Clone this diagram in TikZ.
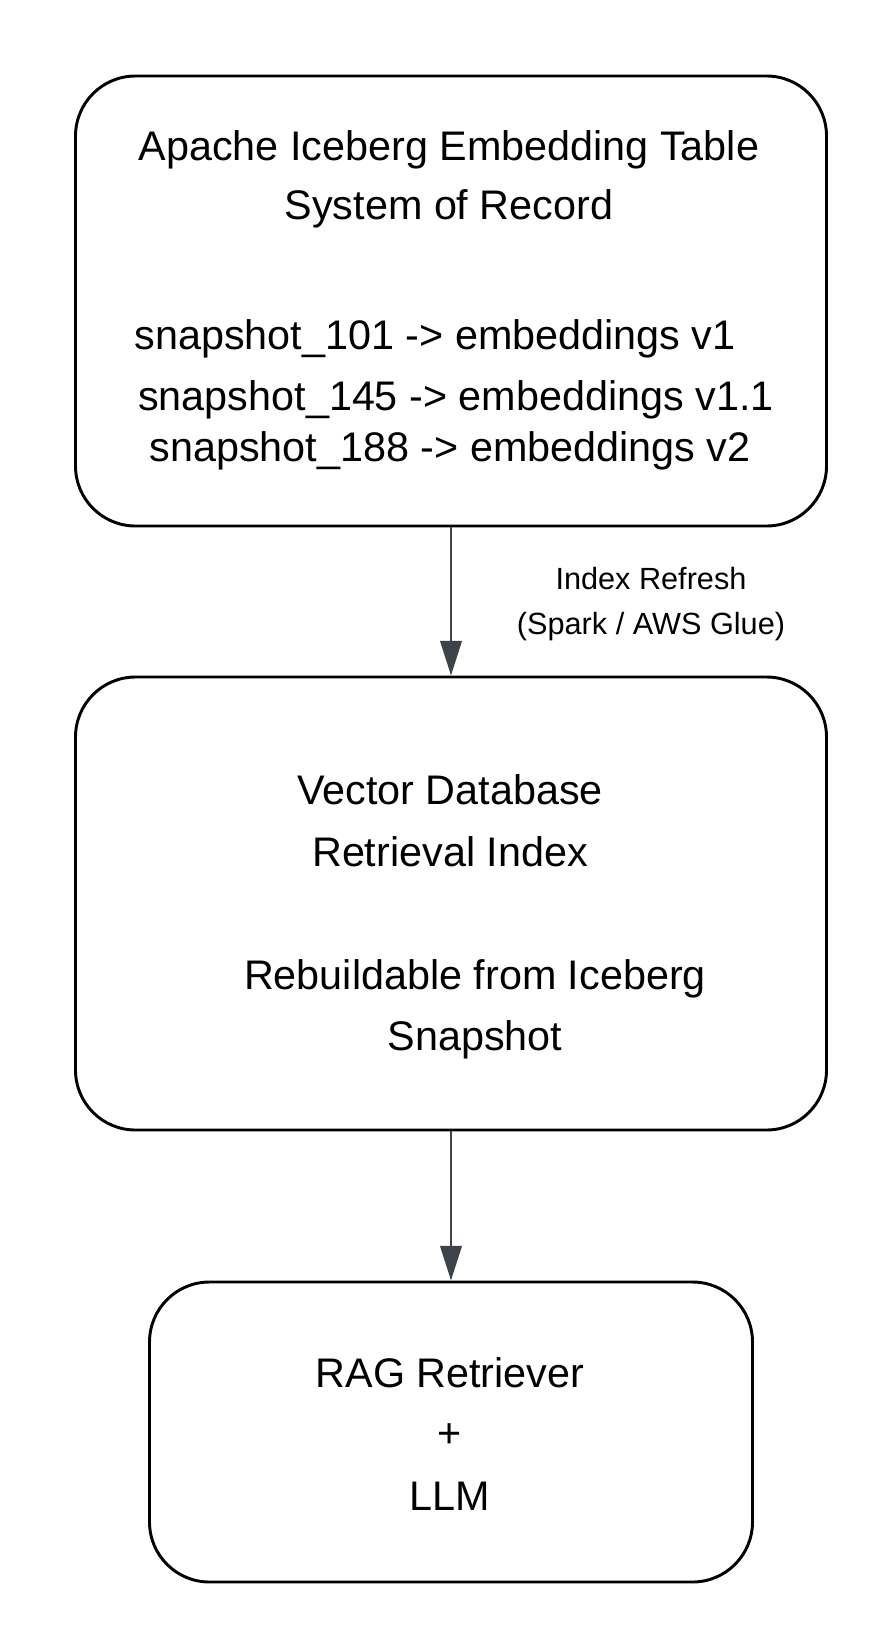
\documentclass[tikz,border=0pt]{standalone}
\usepackage{fontspec}
\setmainfont{Liberation Sans}
\usetikzlibrary{arrows.meta}
\definecolor{arrowgray}{RGB}{61,67,76}
\begin{document}
\begin{tikzpicture}[x=0.75pt,y=0.75pt,yscale=-1,xscale=1,
  box/.style={draw,line width=2.2pt,rounded corners=45pt,inner sep=0pt},
  txt/.style={font=\fontsize{31}{37}\selectfont,inner sep=0pt},
  lbl/.style={font=\fontsize{23}{28}\selectfont,inner sep=0pt,align=center},
  flow/.style={draw=arrowgray,line width=2.2pt,-{Triangle[length=26pt,width=16pt]}}]
\useasboundingbox (0,0) rectangle (896,1650);

%Boxes
\node (iceberg) [box,minimum width=563.25pt,minimum height=337.5pt] at (451,301) {};
\node (vectordb) [box,minimum width=563.25pt,minimum height=339.75pt] at (451,903.5) {};
\node (rag) [box,minimum width=452.25pt,minimum height=225pt] at (451,1432) {};

% Text Node
\node (t1) [txt] at (449,150) {Apache Iceberg Embedding Table};
\node (t2) [txt] at (449,209) {System of Record};
\node (t3) [txt] at (435,339) {snapshot\_101 -> embeddings v1};
\node (t4) [txt] at (456,400) {snapshot\_145 -> embeddings v1.1};
\node (t5) [txt] at (450,451) {snapshot\_188 -> embeddings v2};
\node (t6) [txt] at (450,790) {Vector Database};
\node (t7) [txt] at (450,852) {Retrieval Index};
\node (t8) [txt] at (475,979) {Rebuildable from Iceberg};
\node (t9) [txt] at (475,1040) {Snapshot};
\node (t10) [txt] at (450,1373) {RAG Retriever};
\node (t11) [txt] at (450,1436) {+};
\node (t12) [txt] at (450,1496) {LLM};
\node (refresh) [lbl] at (651,604) {Index Refresh\\[6pt](Spark / AWS Glue)};

%Connectors
\draw [flow] (iceberg.south) -- (vectordb.north);
\draw [flow] (vectordb.south) -- (rag.north);
\end{tikzpicture}
\end{document}
